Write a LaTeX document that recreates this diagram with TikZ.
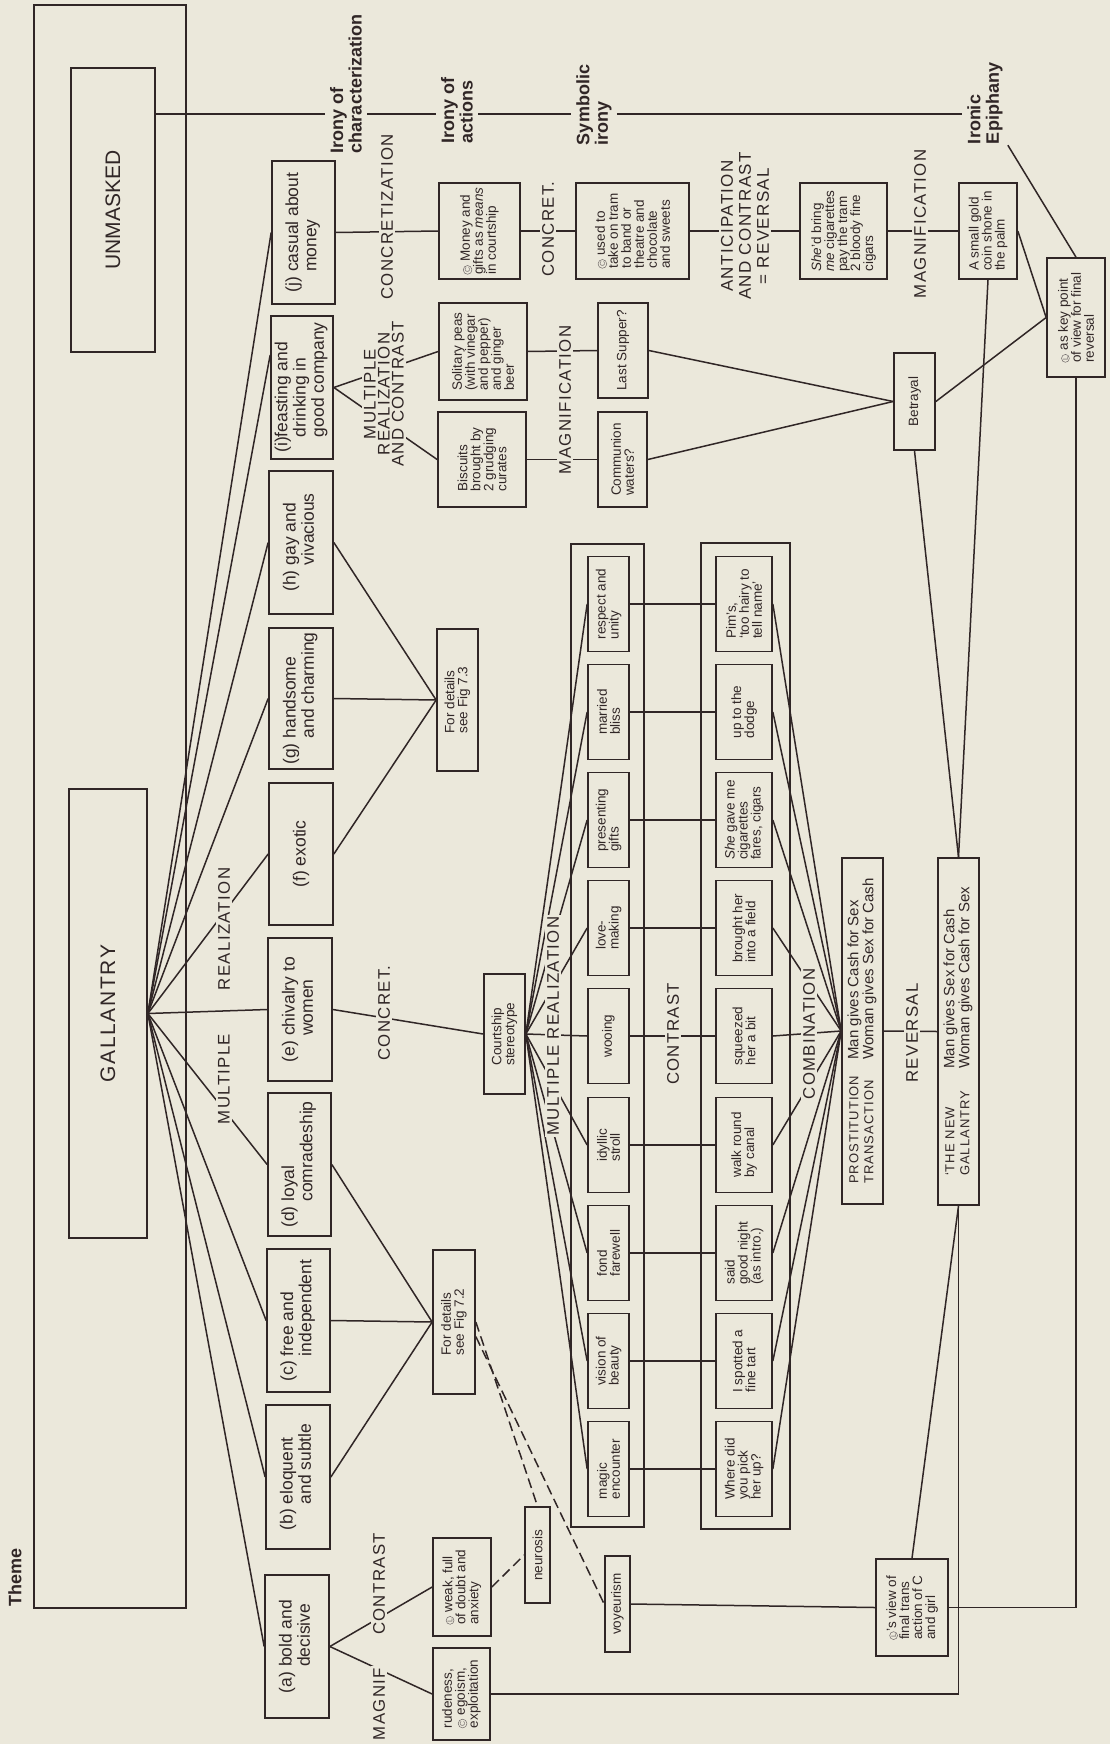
\documentclass[tikz,border=0pt]{standalone}
\usepackage{fontspec}
\setmainfont{Liberation Sans}
\newfontfamily\capsfont[LetterSpace=8]{Liberation Sans}
\usetikzlibrary{calc}

\definecolor{paper}{RGB}{235,232,219}
\definecolor{ink}{RGB}{48,38,38}

\newcommand{\boxfont}{\fontsize{17.5}{18.3}\selectfont}
\newcommand{\smallfont}{\fontsize{13.5}{13}\selectfont}
\newcommand{\capfont}{\capsfont\fontsize{16.8}{15}\selectfont}
\newcommand{\ironyfont}{\bfseries\fontsize{18}{18.5}\selectfont}
% circled initial (C = Corley, L = Lenehan)
\newcommand{\circled}[1]{\tikz[baseline=(cl.base), x=1pt, y=1pt]\node[draw=ink!70, text=ink!70, fill=none, circle,
  minimum width=0pt, minimum height=0pt, line width=0.5pt, inner sep=0.6pt, outer sep=0pt, align=center,
  font=\fontsize{7}{7}\selectfont] (cl) {#1};}
\newcommand{\cirC}{\circled{C}}
\newcommand{\cirL}{\circled{L}}
\newcommand{\hanglbl}[2]{(#1)~\begin{tabular}[t]{@{}l@{}}#2\end{tabular}}

\begin{document}
\begin{tikzpicture}[x=1pt, y=-1pt, color=ink,
  conn/.style={draw=ink, line width=1.5pt},
  dashconn/.style={conn, dash pattern=on 10pt off 5pt},
  bigbox/.style={draw=ink, line width=1.7pt, fill=paper, rotate=90, inner sep=1pt, align=left, font=\boxfont},
  smallbox/.style={bigbox, font=\smallfont},
  pg/.style 2 args={minimum height=#1pt, minimum width=#2pt},
  caps/.style={rotate=90, fill=paper, inner sep=2pt, align=center, font=\capfont},
  irony/.style={rotate=90, inner xsep=1pt, inner ysep=5pt, align=left, font=\ironyfont}]

% paper and page size
\fill[paper] (0,0) rectangle (1110,1744);
\useasboundingbox (0,0) rectangle (1110,1744);

% Theme column
\draw[line width=1.7pt] (34,5) rectangle (186,1608);
\node[rotate=90, font=\bfseries\fontsize{18}{18}\selectfont] (theme) at (15,1577) {Theme};
\node[bigbox, pg={84}{284}, font=\fontsize{21}{22}\selectfont] (unmasked) at (113,210) {UNMASKED};
\node[bigbox, pg={78}{449}, font=\capsfont\fontsize{21}{22}\selectfont] (gallantry) at (108,1013.5) {GALLANTRY};

% qualities (a)-(j)
\node[bigbox, pg={63}{143}] (bxj) at (303.5,232.5) {\hanglbl{j}{casual about\\money}};
\node[bigbox, pg={62}{143}] (bxi) at (302,387.5) {(i)\begin{tabular}[t]{@{}l@{}}feasting and\\drinking in\\good company\end{tabular}};
\node[bigbox, pg={64}{143}] (bxh) at (301,542.5) {\hanglbl{h}{gay and\\vivacious}};
\node[bigbox, pg={64}{141}] (bxg) at (301,698.5) {\hanglbl{g}{handsome\\and charming}};
\node[bigbox, pg={64}{142}] (bxf) at (301,854) {(f) exotic};
\node[bigbox, pg={64}{143}] (bxe) at (300,1009.5) {\hanglbl{e}{chivalry to\\women}};
\node[bigbox, pg={63}{143}] (bxd) at (299.5,1164.5) {\hanglbl{d}{loyal\\comradeship}};
\node[bigbox, pg={63}{143}] (bxc) at (298.5,1320.5) {\hanglbl{c}{free and\\independent}};
\node[bigbox, pg={64}{144}] (bxb) at (298,1477) {\hanglbl{b}{eloquent\\and subtle}};
\node[bigbox, pg={64}{143}] (bxa) at (297,1646.5) {\hanglbl{a}{bold and\\decisive}};

% branches of (a)
\node[smallbox, pg={58}{98}] (weak) at (462,1587) {\cirL\ weak, full\\of doubt and\\anxiety};
\node[smallbox, pg={57}{92}] (rude) at (461.5,1694) {rudeness,\\\cirC\ egoism,\\exploitation};
\node[smallbox, pg={25}{96}] (neurosis) at (537.5,1555) {neurosis};
\node[smallbox, pg={25}{96}] (voyeur) at (617.5,1604) {voyeurism};

% detail boxes and the stereotype
\node[smallbox, pg={42}{144}] (fig72) at (454,1322) {For details\\see Fig 7.2};
\node[smallbox, pg={41}{142}] (fig73) at (457.5,700) {For details\\see Fig 7.3};
\node[smallbox, pg={41}{120}] (court) at (504.5,1034) {Courtship\\stereotype};

% frames round the two rows
\draw[line width=1.7pt] (571,544) rectangle (644,1527);
\draw[line width=1.7pt] (701,543) rectangle (790,1529);
\foreach \nm/\yy/\tx in {respect/604/{respect and\\unity}, married/712/{married\\bliss},
    presents/820/{presenting\\gifts}, lovemk/928/{love-\\making}, wooing/1036/{wooing},
    stroll/1145/{idyllic\\stroll}, farewell/1253/{fond\\farewell}, vision/1361/{vision of\\beauty},
    magic/1469/{magic\\encounter}}
  \node[smallbox, pg={41}{95}] (\nm) at (608.5,\yy) {\tx};
\foreach \nm/\yy/\tx in {pims/604/{Pim's,\\‘too hairy to\\tell name’}, dodge/712/{up to the\\dodge},
    shegave/820/{\textit{She} gave me\\cigarettes\\fares, cigars}, brought/928/{brought her\\into a field},
    squeezed/1036/{squeezed\\her a bit}, walk/1145/{walk round\\by canal},
    said/1253/{said\\good night\\(as intro.)}, spotted/1361/{I spotted a\\fine tart},
    where/1469/{Where did\\you pick\\her up?}}
  \node[smallbox, pg={56}{95}] (\nm) at (744,\yy) {\tx};

% transactions
\node[bigbox, pg={41}{346}, font=\fontsize{15}{13.5}\selectfont] (prost) at (862.5,1031)
  {\begin{tabular}{@{}l@{\hspace{16pt}}l@{}}{\capsfont\fontsize{13}{13}\selectfont PROSTITUTION} & Man gives Cash for Sex\\
   {\capsfont\fontsize{13}{13}\selectfont TRANSACTION} & Woman gives Sex for Cash\end{tabular}};
\node[bigbox, pg={41}{347}, font=\fontsize{15}{13.5}\selectfont] (newgal) at (958.5,1031.5)
  {\begin{tabular}{@{}l@{\hspace{22pt}}l@{}}{\capsfont\fontsize{13}{13}\selectfont ‘THE NEW} & Man gives Sex for Cash\\
   {\capsfont\fontsize{13}{13}\selectfont GALLANTRY} & Woman gives Cash for Sex\end{tabular}};

% concretization chain from (j)
\node[smallbox, pg={81}{96}] (money) at (479.5,231) {\cirC\ Money and\\gifts as \textit{means}\\in courtship};
\node[smallbox, pg={113}{96}] (usedto) at (632.5,231) {\cirC\ used to\\take on tram\\to band or\\theatre and\\chocolate\\and sweets};
\node[smallbox, pg={87}{96}] (shed) at (843.5,231) {\textit{She}'d bring\\\textit{me} cigarettes\\pay the tram\\2 bloody fine\\cigars};
\node[smallbox, pg={58}{96}] (coin) at (988,231) {A small gold\\coin shone in\\the palm};
\node[smallbox, pg={58}{119}] (keypt) at (1076,317.5) {\cirL\ as key point\\of view for final\\reversal};
\node[smallbox, pg={72}{97}] (view) at (912,1607.5) {\cirL's view of\\final trans\\action of C\\and girl};

% feasting branch
\node[smallbox, pg={88}{97}] (peas) at (483,351.5) {Solitary peas\\(with vinegar\\and pepper)\\and ginger\\beer};
\node[smallbox, pg={88}{95}] (biscuits) at (482,459.5) {Biscuits\\brought by\\2 grudging\\curates};
\node[smallbox, pg={50}{95}] (supper) at (623,350.5) {Last Supper?};
\node[smallbox, pg={49}{95}] (communion) at (622.5,459.5) {Communion\\waters?};
\node[smallbox, pg={41}{97}] (betrayal) at (914.5,401.5) {Betrayal};

% irony row
\node[irony] (ironyc) at (346,84) {Irony of\\characterization};
\node[irony] (ironya) at (457,110.5) {Irony of\\actions};
\node[irony] (symb) at (594,105) {Symbolic\\irony};
\node[irony] (epiph) at (985,103.5) {Ironic\\Epiphany};
\coordinate (ironyrow) at (0,114);
\draw[conn] (unmasked.south |- ironyrow) -- (ironyc.north |- ironyrow);
\draw[conn] (ironyc.south |- ironyrow) -- (ironya.north |- ironyrow);
\draw[conn] (ironya.south |- ironyrow) -- (symb.north |- ironyrow);
\draw[conn] (symb.south |- ironyrow) -- (epiph.north |- ironyrow);

% Gallantry fan
\foreach \bx in {bxj,bxh,bxg,bxf,bxe,bxd,bxc,bxb,bxa}
  \draw[conn] (gallantry.south) -- (\bx.north);
\draw[conn] (gallantry.south) -- (bxi.north |- 0,355);

% (a) branches and detail links
\draw[conn] (bxa.south) -- (weak.north);
\draw[conn] (bxa.south) -- (rude.north);
\draw[dashconn] (weak.south) -- (neurosis.north);
\draw[conn] (bxd.south) -- (fig72.north);
\draw[conn] (bxc.south) -- (fig72.north);
\draw[conn] (bxb.south) -- (fig72.north);
\draw[dashconn] (fig72.south) -- (neurosis.east);
\draw[dashconn] ($(fig72.south)!0.2!(fig72.south west)$) -- (voyeur.north);
\draw[conn] (bxf.south) -- (fig73.north);
\draw[conn] (bxg.south) -- (fig73.north);
\draw[conn] (bxh.south) -- (fig73.north);

% courtship stereotype rows
\draw[conn] (bxe.south) -- (court.north);
\foreach \rb in {respect,married,presents,lovemk,wooing,stroll,farewell,vision,magic}
  \draw[conn] (court.south) -- (\rb.north);
\foreach \ra/\rb in {respect/pims, married/dodge, presents/shegave, lovemk/brought, wooing/squeezed,
    stroll/walk, farewell/said, vision/spotted, magic/where}
  \draw[conn] (\ra.south) -- (\rb.north);
\foreach \ra in {pims,dodge,shegave,brought,squeezed,walk,said,spotted,where}
  \draw[conn] (\ra.south) -- (prost.north);
\draw[conn] (prost.south) -- (newgal.north);

% top chains
\draw[conn] (bxj.south) -- (money.north);
\draw[conn] (money.south) -- (usedto.north);
\draw[conn] (usedto.south) -- (shed.north);
\draw[conn] (shed.south) -- (coin.north);
\draw[conn] (bxi.south) -- (peas.north);
\draw[conn] (bxi.south) -- (biscuits.north);
\draw[conn] (peas.south) -- (supper.north);
\draw[conn] (biscuits.south) -- (communion.north);
\draw[conn] (supper.south) -- (betrayal.north);
\draw[conn] (communion.south) -- (betrayal.north);
\draw[conn] (betrayal.south) -- (keypt.north);
\draw[conn] (coin.south) -- (keypt.north);
\draw[conn] (coin.west) -- (newgal.east);
\draw[conn] (betrayal.west) -- (newgal.east);
\draw[conn] (epiph.south west) -- (keypt.east);

% back to the new gallantry
\draw[conn] (keypt.west) |- (view.south);
\draw[conn] (voyeur.south) -- (view.north);
\draw[conn] (view.east) -- (newgal.west);
\draw[conn] (rude.south) -| (newgal.west);

% process labels, laid over the links
\node[caps] (lmult) at (224,1079) {MULTIPLE};
\node[caps] (lreal) at (224,929) {REALIZATION};
\node[caps] (lcontra) at (379,1584) {CONTRAST};
\node[caps, anchor=east] (lmagnif) at (379,1666) {MAGNIF};
\node[caps] (lconc) at (384,1013) {CONCRET.};
\node[caps] (lmultreal) at (553,1026) {MULTIPLE REALIZATION};
\node[caps] (lcontrb) at (673,1034) {CONTRAST};
\node[caps] (lcomb) at (809,1034) {COMBINATION};
\node[caps] (lrev) at (912,1033) {REVERSAL};
\node[caps] (lconcz) at (387,217) {CONCRETIZATION};
\node[caps] (lconcb) at (548,229) {CONCRET.};
\node[caps, font=\capsfont\fontsize{17}{18}\selectfont] (lantic) at (745,226) {ANTICIPATION\\AND CONTRAST\\= REVERSAL};
\node[caps] (lmagb) at (920,224) {MAGNIFICATION};
\node[caps] (lmaga) at (565,400) {MAGNIFICATION};
\node[caps, font=\capsfont\fontsize{16.8}{14}\selectfont] (lmrac) at (384,394) {MULTIPLE\\REALIZATION\\AND CONTRAST};
\end{tikzpicture}
\end{document}
